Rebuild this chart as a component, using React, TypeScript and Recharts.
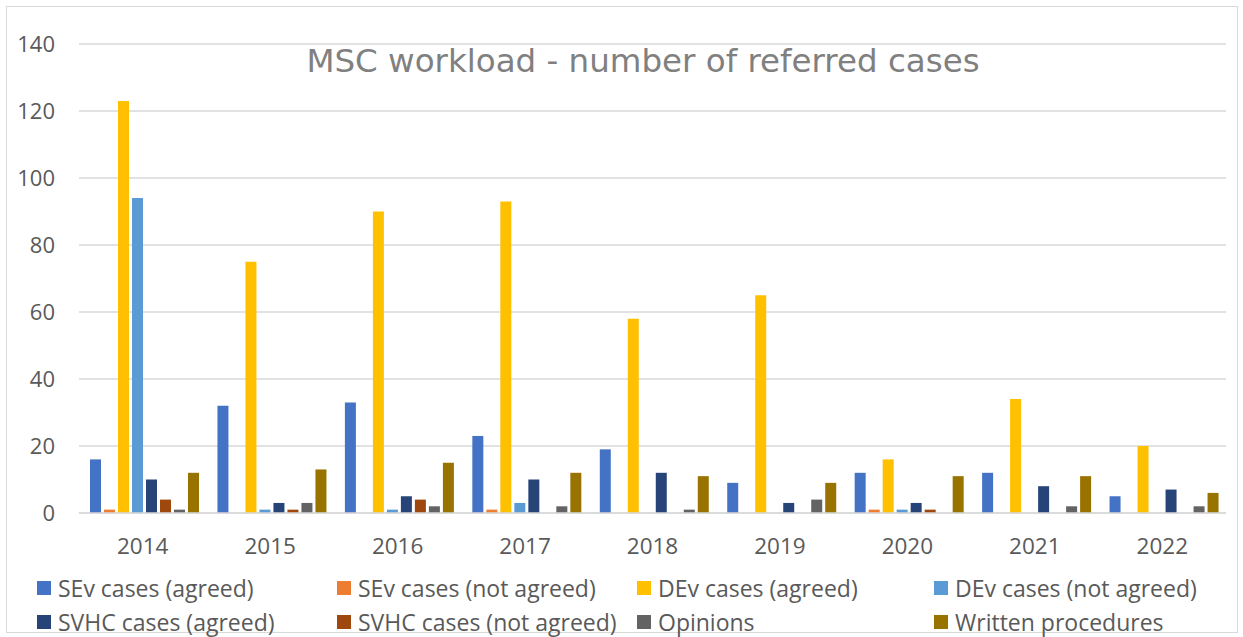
import React from "react";
import { BarChart, Bar, XAxis, YAxis, CartesianGrid } from "recharts";

const years = ["2014", "2015", "2016", "2017", "2018", "2019", "2020", "2021", "2022"];
const sevAgreed = [16, 32, 33, 23, 19, 9, 12, 12, 5];
const sevNotAgreed = [1, 0, 0, 1, 0, 0, 1, 0, 0];
const devAgreed = [123, 75, 90, 93, 58, 65, 16, 34, 20];
const devNotAgreed = [94, 1, 1, 3, 0, 0, 1, 0, 0];
const svhcAgreed = [10, 3, 5, 10, 12, 3, 3, 8, 7];
const svhcNotAgreed = [4, 1, 4, 0, 0, 0, 1, 0, 0];
const opinions = [1, 3, 2, 2, 1, 4, 0, 2, 2];
const written = [12, 13, 15, 12, 11, 9, 11, 11, 6];
const yTicks = [0, 20, 40, 60, 80, 100, 120, 140];

const series = [
  { key: "sevAgreed", name: "SEv cases (agreed)", color: "#4472C4", values: sevAgreed },
  { key: "sevNotAgreed", name: "SEv cases (not agreed)", color: "#ED7D31", values: sevNotAgreed },
  { key: "devAgreed", name: "DEv cases (agreed)", color: "#FFC000", values: devAgreed },
  { key: "devNotAgreed", name: "DEv cases (not agreed)", color: "#5B9BD5", values: devNotAgreed },
  { key: "svhcAgreed", name: "SVHC cases (agreed)", color: "#264478", values: svhcAgreed },
  { key: "svhcNotAgreed", name: "SVHC cases (not agreed)", color: "#9E480E", values: svhcNotAgreed },
  { key: "opinions", name: "Opinions", color: "#636363", values: opinions },
  { key: "written", name: "Written procedures", color: "#997300", values: written },
];

const data = years.map((y, i) => {
  const row: Record<string, string | number> = { year: y };
  series.forEach((s) => {
    row[s.key] = s.values[i];
  });
  return row;
});

const legendCols = [37, 337, 637, 934];
const legendRows = [588, 622];

const FONT = "'Open Sans', sans-serif";

export default function App() {
  return (
    <div style={{ position: "absolute", left: 0, top: 0, width: 1243, height: 637, background: "#fff", overflow: "hidden" }}>
      <div
        style={{
          position: "absolute",
          left: 6,
          top: 6,
          width: 1230,
          height: 625,
          border: "1.5px solid #D9D9D9",
        }}
      />
      <BarChart
        width={1243}
        height={637}
        data={data}
        margin={{ top: 44, right: 17, bottom: 94, left: 0 }}
        barCategoryGap={11}
        barGap={3}
      >
        <CartesianGrid vertical={false} stroke="#D9D9D9" strokeWidth={1.5} />
        <XAxis
          dataKey="year"
          height={30}
          axisLine={{ stroke: "#D9D9D9", strokeWidth: 1.5 }}
          tickLine={false}
          tickSize={0}
          tickMargin={25}
          tick={{ fill: "#595959", fontSize: 22.5, fontFamily: FONT }}
        />
        <YAxis
          width={79}
          domain={[0, 140]}
          ticks={yTicks}
          axisLine={false}
          tickLine={false}
          tickSize={0}
          tickMargin={24}
          tick={{ fill: "#595959", fontSize: 22, fontFamily: FONT }}
        />
        {series.map((s) => (
          <Bar key={s.key} dataKey={s.key} name={s.name} fill={s.color} isAnimationActive={false} />
        ))}
      </BarChart>
      <div
        style={{
          position: "absolute",
          left: 0,
          width: 1286,
          top: 72,
          textAlign: "center",
          fontFamily: "'DejaVu Sans', sans-serif",
          fontSize: 32.5,
          color: "#808080",
          lineHeight: 0,
          whiteSpace: "nowrap",
        }}
      >
        <span style={{ position: "relative", top: -11 }}>MSC workload - number of referred cases</span>
      </div>
      {series.map((s, i) => {
        const col = i % 4;
        const row = Math.floor(i / 4);
        const x = legendCols[col];
        const y = legendRows[row];
        return (
          <div key={s.key}>
            <div
              style={{
                position: "absolute",
                left: x,
                top: y - 7,
                width: 14,
                height: 14,
                background: s.color,
              }}
            />
            <div
              style={{
                position: "absolute",
                left: x + 21,
                top: y - 16,
                height: 32,
                lineHeight: "32px",
                fontFamily: FONT,
                fontSize: 23,
                color: "#595959",
                whiteSpace: "nowrap",
              }}
            >
              {s.name}
            </div>
          </div>
        );
      })}
    </div>
  );
}
